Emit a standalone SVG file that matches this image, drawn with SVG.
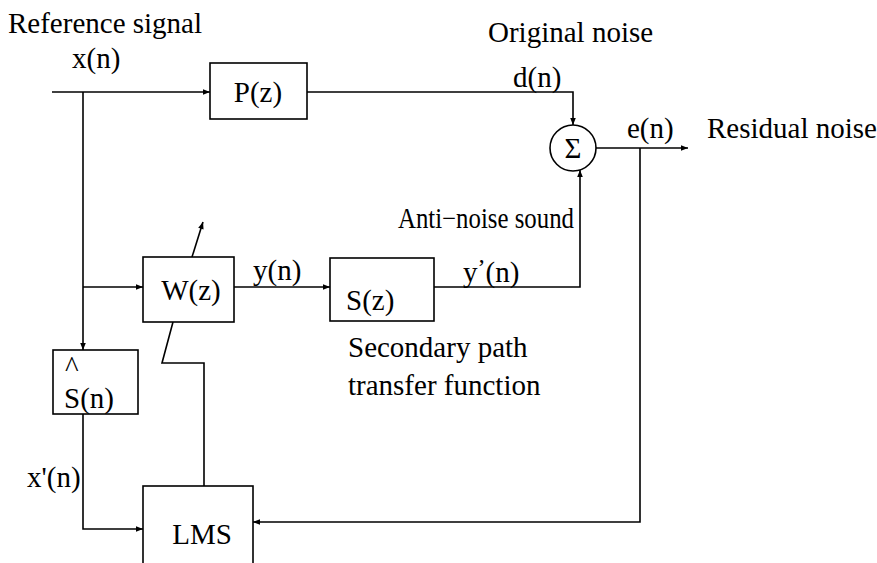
<svg xmlns="http://www.w3.org/2000/svg" width="877" height="563" viewBox="0 0 877 563">
<style>
text{font-family:"Liberation Serif",Tinos,"Times New Roman",Times,"Nimbus Roman","Nimbus Roman No9 L",FreeSerif,"DejaVu Serif","Noto Serif",serif;font-size:29px;fill:#000}
.b{fill:#fff;stroke:#000;stroke-width:1.6}
.c{fill:none;stroke:#000;stroke-width:1.6}
</style>
<defs>
<marker id="a" viewBox="0 0 10 10" refX="10" refY="5" markerWidth="9" markerHeight="7" markerUnits="userSpaceOnUse" orient="auto">
<path d="M0,1 L10,5 L0,9 z" fill="#000"/>
</marker>
</defs>
<rect width="877" height="563" fill="#fff"/>
<g id="connectors">
<path class="c" d="M52,92 H210" marker-end="url(#a)"/>
<path class="c" d="M83,92 V350" marker-end="url(#a)"/>
<path class="c" d="M83,287 H143" marker-end="url(#a)"/>
<path class="c" d="M307,92 H573 V125" marker-end="url(#a)"/>
<path class="c" d="M234,287 H330" marker-end="url(#a)"/>
<path class="c" d="M434,287 H580 V170" marker-end="url(#a)"/>
<path class="c" d="M596,148 H688" marker-end="url(#a)"/>
<path class="c" d="M640,148 V522 H253" marker-end="url(#a)"/>
<path class="c" d="M83,414 V529 H143" marker-end="url(#a)"/>
<path class="c" d="M204,486 V363 H162 L173,322"/>
<path class="c" d="M192,257 L203,222" marker-end="url(#a)"/>
</g>
<g id="P"><rect class="b" x="210" y="63" width="97" height="56"/><text x="258" y="102" text-anchor="middle">P(z)</text></g>
<g id="W"><rect class="b" x="143" y="257" width="91" height="65"/><text x="191" y="300" text-anchor="middle">W(z)</text></g>
<g id="S"><rect class="b" x="330" y="258" width="104" height="63"/><text x="346" y="310">S(z)</text></g>
<g id="Shat"><rect class="b" x="53" y="350" width="85" height="64"/><text x="65" y="377" font-size="20">^</text><text x="64" y="408">S(n)</text></g>
<g id="LMS"><rect class="b" x="143" y="486" width="110" height="90"/><text x="202" y="544" text-anchor="middle">LMS</text></g>
<g id="sum"><circle class="b" cx="573" cy="148" r="23"/><text x="573" y="158" text-anchor="middle" font-size="26">Σ</text></g>
<g id="labels">
<text x="8" y="33">Reference signal</text>
<text x="72" y="68">x(n)</text>
<text x="488" y="42">Original noise</text>
<text x="513" y="87">d(n)</text>
<text x="627" y="138">e(n)</text>
<text x="707" y="138">Residual noise</text>
<text x="398" y="228" textLength="176" lengthAdjust="spacingAndGlyphs">Anti−noise sound</text>
<text x="253" y="280">y(n)</text>
<text x="463" y="282">y<tspan dy="-7" font-size="24">’</tspan><tspan dy="7">(n)</tspan></text>
<text x="348" y="357">Secondary path</text>
<text x="348" y="395">transfer function</text>
<text x="27" y="487">x'(n)</text>
</g>
</svg>
